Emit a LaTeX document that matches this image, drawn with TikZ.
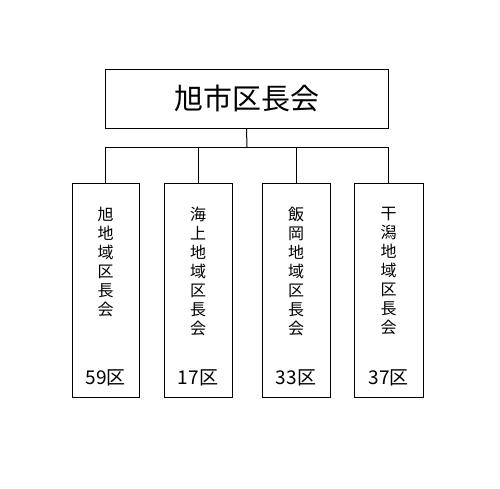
\documentclass[tikz,border=0pt]{standalone}
\usepackage{fontspec}
\setmainfont{Noto Sans CJK JP}
\begin{document}
\begin{tikzpicture}[x=1pt,y=-1pt,
  line width=1pt,main node/.style={rectangle,draw,inner sep=0pt},
  name node/.style={font=\fontsize{16}{19}\selectfont,align=center,anchor=north},
  count node/.style={font=\fontsize{19}{21}\selectfont}]
  \useasboundingbox (0,0) rectangle (500,488);

  \node[main node,minimum width=283pt,minimum height=59pt,font=\fontsize{29}{32}\selectfont] (top) at (246.5,98.5){旭市区長会};
  \node[main node,minimum width=67pt,minimum height=214pt] (1) at (105.5,290){};
  \node[main node,minimum width=68pt,minimum height=214pt] (2) at (198,290){};
  \node[main node,minimum width=68pt,minimum height=214pt] (3) at (296,290){};
  \node[main node,minimum width=69pt,minimum height=214pt] (4) at (388.5,290){};
  \coordinate (bus) at (247,147);

  \node[name node] (n1) at (105.5,203){旭\\地\\域\\区\\長\\会};
  \node[name node] (n2) at (198,203){海\\上\\地\\域\\区\\長\\会};
  \node[name node] (n3) at (296,203){飯\\岡\\地\\域\\区\\長\\会};
  \node[name node] (n4) at (388.5,203){干\\潟\\地\\域\\区\\長\\会};

  \node[count node] (k1) at (105.5,378){59区};
  \node[count node] (k2) at (198,378){17区};
  \node[count node] (k3) at (296,378){33区};
  \node[count node] (k4) at (388.5,378){37区};

  \draw (top.south) -- (bus);
  \draw (bus) -| (1.north);
  \draw (bus) -| (2.north);
  \draw (bus) -| (3.north);
  \draw (bus) -| (4.north);
\end{tikzpicture}
\end{document}
